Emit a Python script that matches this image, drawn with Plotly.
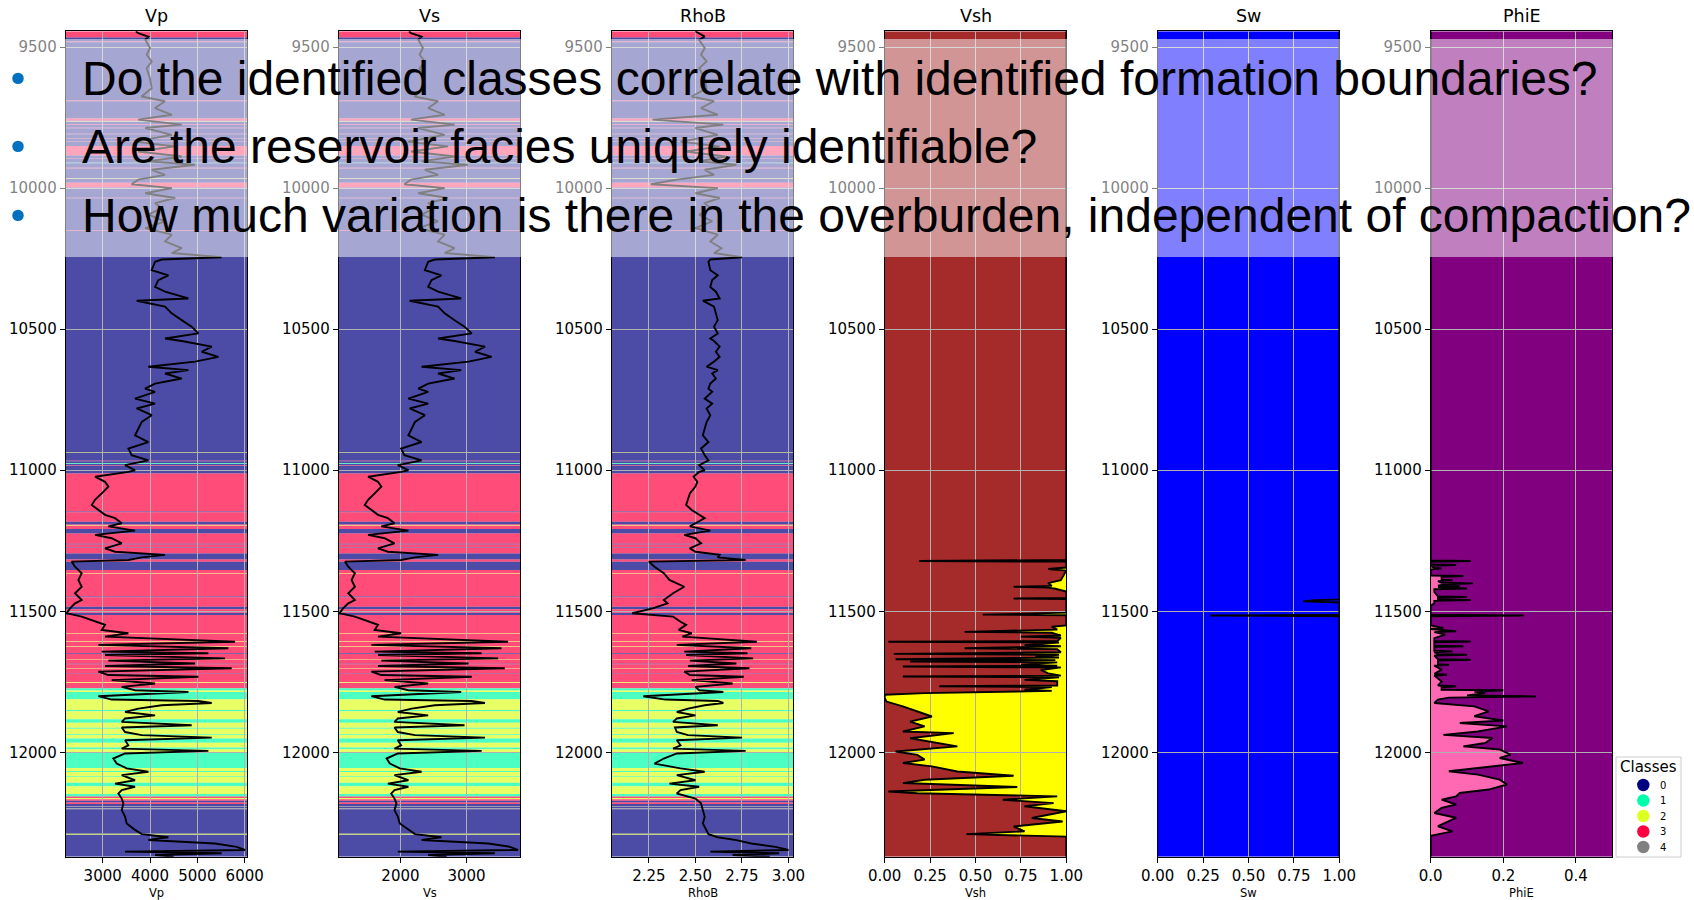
import plotly.graph_objects as go

W, H = 1694, 900

# ---------------- data ----------------
track_names = ["Vp", "Vs", "RhoB", "Vsh", "Sw", "PhiE"]
depth_ticks = [9500, 10000, 10500, 11000, 11500, 12000]
depth_top, depth_bottom = 9444, 12370

x_ranges = [[2218, 6055], [1065, 3815], [2.05, 3.026], [0, 1], [0, 1], [0, 0.5]]
x_tickvals = [[3000, 4000, 5000, 6000], [2000, 3000], [2.25, 2.5, 2.75, 3.0],
              [0, 0.25, 0.5, 0.75, 1.0], [0, 0.25, 0.5, 0.75, 1.0], [0, 0.2, 0.4]]
x_ticktext = [["3000", "4000", "5000", "6000"], ["2000", "3000"], ["2.25", "2.50", "2.75", "3.00"],
              ["0.00", "0.25", "0.50", "0.75", "1.00"], ["0.00", "0.25", "0.50", "0.75", "1.00"],
              ["0.0", "0.2", "0.4"]]

legend_title = "Classes"
class_labels = ["0", "1", "2", "3", "4"]
class_colors = ["#000080", "#00FFAA", "#DDFF22", "#FF0040", "#808080"]

class_top = [9444, 9466, 9480, 9483, 9689, 9692, 9753, 9761, 9763, 9765,
             9773, 9775, 9786, 9788, 9807, 9809, 9822, 9824, 9833, 9835,
             9851, 9884, 9893, 9895, 9910, 9912, 9928, 9930, 9966, 9968,
             9981, 9998, 10034, 10036, 10150, 10152, 10936, 10938, 10966, 10968,
             10975, 10978, 10983, 10985, 11012, 11146, 11149, 11183, 11192, 11196,
             11198, 11208, 11224, 11261, 11263, 11273, 11275, 11295, 11316, 11324,
             11354, 11365, 11367, 11448, 11450, 11484, 11493, 11500, 11503, 11506,
             11513, 11578, 11580, 11607, 11609, 11625, 11627, 11649, 11651, 11669,
             11671, 11686, 11688, 11701, 11703, 11719, 11721, 11752, 11754, 11773,
             11781, 11786, 11812, 11850, 11854, 11883, 11895, 11913, 11916, 11936,
             11939, 11951, 11966, 11983, 11989, 11999, 12056, 12066, 12070, 12084,
             12087, 12108, 12120, 12148, 12157, 12162, 12166, 12172, 12178, 12183,
             12190, 12193, 12198, 12202, 12289, 12292]
class_id = [3, 0, 3, 0, 3, 0, 3, 0, 2, 0,
            3, 0, 3, 0, 3, 0, 3, 0, 3, 0,
            3, 0, 3, 0, 1, 0, 3, 0, 2, 0,
            3, 0, 3, 0, 3, 0, 2, 0, 3, 0,
            1, 0, 3, 0, 3, 0, 3, 0, 3, 2,
            3, 0, 3, 0, 3, 0, 3, 0, 3, 0,
            3, 2, 3, 0, 3, 0, 3, 0, 3, 0,
            3, 2, 3, 2, 3, 2, 3, 0, 3, 2,
            3, 0, 3, 2, 3, 0, 3, 2, 3, 1,
            2, 1, 2, 1, 2, 1, 2, 1, 2, 1,
            2, 1, 2, 1, 2, 1, 2, 1, 2, 1,
            2, 1, 2, 1, 3, 2, 3, 0, 3, 0,
            4, 0, 4, 0, 2, 0]

depth = [9444, 9451, 9463, 9474, 9503, 9527, 9551, 9575, 9611, 9646,
         9675, 9692, 9716, 9740, 9757, 9775, 9787, 9811, 9835, 9852,
         9870, 9888, 9905, 9917, 9935, 9953, 9970, 9986, 10000, 10018,
         10035, 10053, 10071, 10094, 10118, 10142, 10165, 10189, 10213, 10230,
         10245, 10253, 10261, 10291, 10309, 10326, 10350, 10367, 10391, 10399,
         10420, 10444, 10468, 10491, 10515, 10533, 10542, 10562, 10580, 10598,
         10615, 10633, 10645, 10657, 10675, 10693, 10711, 10722, 10746, 10764,
         10781, 10805, 10829, 10852, 10876, 10900, 10923, 10947, 10965, 10982,
         11000, 11006, 11023, 11041, 11058, 11082, 11105, 11123, 11141, 11158,
         11170, 11188, 11199, 11214, 11229, 11241, 11259, 11277, 11289, 11300,
         11309, 11318, 11324, 11342, 11365, 11389, 11413, 11436, 11460, 11472,
         11490, 11507, 11519, 11537, 11548, 11566, 11578, 11590, 11608, 11619,
         11631, 11643, 11649, 11655, 11667, 11675, 11685, 11694, 11702, 11714,
         11726, 11732, 11744, 11756, 11768, 11780, 11786, 11801, 11813, 11818,
         11825, 11833, 11845, 11857, 11869, 11880, 11892, 11904, 11912, 11928,
         11939, 11948, 11957, 11975, 11987, 11995, 12004, 12022, 12040, 12057,
         12069, 12081, 12099, 12111, 12122, 12134, 12146, 12164, 12181, 12205,
         12228, 12252, 12275, 12290, 12301, 12311, 12323, 12335, 12346, 12352,
         12358, 12364, 12370]

vp = [3700, 3750, 3965, 3900, 4000, 3930, 4035, 3930, 4000, 4035,
      3820, 4315, 4106, 4460, 3750, 4670, 3900, 4460, 3680, 4530,
      3750, 4670, 3965, 4950, 4035, 4317, 3750, 3610, 4460, 3900,
      4530, 4106, 4246, 3965, 4317, 3900, 4460, 4317, 4670, 4460,
      5510, 4246, 4106, 4035, 4387, 4176, 4106, 4317, 4810, 3718,
      4317, 4458, 4669, 4880, 5021, 4317, 4669, 5303, 5092, 5444,
      4951, 3965, 4810, 4317, 4669, 4106, 3894, 4106, 3683, 4106,
      3718, 4035, 3824, 3754, 3683, 3965, 3542, 3612, 3965, 3472,
      3683, 3542, 2838, 3049, 3120, 2979, 2838, 2768, 2908, 3049,
      3261, 3402, 3120, 3683, 2838, 3190, 3402, 3049, 3261, 4317,
      3824, 3542, 2345, 2415, 2556, 2486, 2556, 2415, 2556, 2415,
      2310, 2239, 2556, 2838, 3049, 2979, 3542, 3049, 5796, 2908,
      5655, 2979, 5232, 3049, 5585, 3120, 4951, 3049, 5725, 2908,
      3120, 5021, 3190, 4106, 3402, 3683, 4810, 2908, 3190, 5021,
      5303, 4246, 3754, 3472, 4106, 3472, 3402, 4880, 3402, 3472,
      3824, 5303, 3472, 3542, 3402, 5232, 3472, 3225, 3296, 3507,
      3965, 3402, 3683, 3261, 3683, 3402, 3331, 3402, 3437, 3402,
      3472, 3507, 3683, 3824, 4387, 3965, 5373, 5831, 6007, 3472,
      5514, 4106, 4500]

vs = [2130, 2160, 2320, 2270, 2340, 2290, 2370, 2290, 2340, 2370,
      2210, 2570, 2420, 2670, 2160, 2820, 2270, 2670, 2110, 2720,
      2160, 2820, 2320, 3020, 2370, 2570, 2160, 2060, 2670, 2270,
      2720, 2420, 2520, 2320, 2570, 2270, 2670, 2570, 2820, 2670,
      3430, 2520, 2420, 2370, 2620, 2470, 2420, 2570, 2920, 2140,
      2570, 2670, 2820, 2970, 3080, 2570, 2820, 3280, 3130, 3380,
      3030, 2320, 2920, 2570, 2820, 2420, 2270, 2420, 2120, 2420,
      2140, 2370, 2220, 2170, 2120, 2320, 2010, 2060, 2320, 1960,
      2120, 2010, 1510, 1660, 1710, 1610, 1510, 1460, 1560, 1660,
      1810, 1910, 1710, 2120, 1510, 1760, 1910, 1660, 1810, 2570,
      2220, 2010, 1160, 1210, 1310, 1260, 1310, 1210, 1310, 1210,
      1130, 1080, 1310, 1510, 1660, 1610, 2010, 1660, 3630, 1560,
      3530, 1610, 3230, 1660, 3480, 1710, 3030, 1660, 3580, 1560,
      1710, 3080, 1760, 2420, 1910, 2120, 2920, 1560, 1760, 3080,
      3280, 2520, 2170, 1960, 2420, 1960, 1910, 2970, 1910, 1960,
      2220, 3280, 1960, 2010, 1910, 3230, 1960, 1790, 1840, 1990,
      2320, 1910, 2120, 1810, 2120, 1910, 1860, 1910, 1940, 1910,
      1960, 1990, 2120, 2220, 2620, 2320, 3330, 3660, 3780, 1960,
      3430, 2420, 2700]

rhob = [2.50, 2.52, 2.55, 2.52, 2.55, 2.53, 2.56, 2.52, 2.55, 2.56,
        2.48, 2.60, 2.53, 2.62, 2.27, 2.65, 2.50, 2.62, 2.42, 2.63,
        2.45, 2.66, 2.52, 2.72, 2.55, 2.60, 2.40, 2.26, 2.62, 2.50,
        2.63, 2.55, 2.58, 2.52, 2.59, 2.50, 2.62, 2.58, 2.64, 2.60,
        2.75, 2.58, 2.57, 2.58, 2.62, 2.59, 2.58, 2.61, 2.63, 2.54,
        2.60, 2.61, 2.62, 2.60, 2.62, 2.58, 2.60, 2.63, 2.61, 2.63,
        2.60, 2.56, 2.62, 2.59, 2.61, 2.58, 2.57, 2.59, 2.55, 2.59,
        2.56, 2.58, 2.56, 2.55, 2.54, 2.57, 2.53, 2.55, 2.57, 2.52,
        2.55, 2.52, 2.49, 2.51, 2.50, 2.47, 2.46, 2.45, 2.48, 2.52,
        2.55, 2.50, 2.47, 2.58, 2.44, 2.50, 2.53, 2.47, 2.50, 2.63,
        2.62, 2.77, 2.25, 2.28, 2.33, 2.36, 2.44, 2.38, 2.33, 2.35,
        2.27, 2.16, 2.38, 2.42, 2.45, 2.41, 2.48, 2.43, 2.83, 2.40,
        2.80, 2.44, 2.78, 2.45, 2.81, 2.47, 2.72, 2.46, 2.79, 2.44,
        2.47, 2.76, 2.48, 2.70, 2.50, 2.52, 2.65, 2.22, 2.34, 2.62,
        2.65, 2.55, 2.46, 2.40, 2.50, 2.40, 2.38, 2.62, 2.39, 2.40,
        2.46, 2.75, 2.40, 2.42, 2.38, 2.77, 2.40, 2.33, 2.28, 2.42,
        2.55, 2.40, 2.50, 2.36, 2.52, 2.42, 2.40, 2.50, 2.53, 2.54,
        2.55, 2.54, 2.56, 2.57, 2.62, 2.72, 2.80, 2.93, 3.00, 2.58,
        2.95, 2.70, 2.90]

vsh_depth = [9444, 11318, 11322, 11324, 11345, 11350, 11356, 11390, 11400, 11410,
             11413, 11416, 11420, 11430, 11453, 11455, 11457, 11505, 11512, 11514,
             11550, 11555, 11565, 11573, 11576, 11586, 11590, 11594, 11606, 11608,
             11611, 11620, 11624, 11631, 11634, 11645, 11651, 11654, 11660, 11664,
             11670, 11673, 11678, 11681, 11690, 11693, 11696, 11699, 11708, 11720,
             11728, 11731, 11734, 11743, 11748, 11763, 11766, 11769, 11778, 11782,
             11790, 11796, 11808, 11820, 11837, 11855, 11873, 11891, 11908, 11926,
             11932, 11950, 11967, 11979, 11997, 12009, 12026, 12038, 12050, 12068,
             12083, 12097, 12109, 12123, 12139, 12145, 12156, 12168, 12180, 12191,
             12209, 12233, 12245, 12263, 12280, 12290, 12299, 12370]
vsh = [1.0, 1.0, 0.19, 1.0, 1.0, 0.90, 1.0, 0.97, 0.90, 0.92,
       0.71, 0.90, 0.94, 1.0, 1.0, 0.71, 1.0, 1.0, 0.54, 1.0,
       1.0, 0.92, 0.95, 0.44, 0.92, 0.97, 0.75, 0.97, 0.95, 0.02,
       0.96, 0.77, 0.97, 0.44, 0.95, 0.97, 0.05, 0.96, 0.83, 0.96,
       0.06, 0.94, 0.14, 0.95, 0.75, 0.95, 0.10, 0.97, 0.86, 0.90,
       0.97, 0.10, 0.96, 0.77, 0.95, 0.95, 0.30, 0.92, 0.77, 0.92,
       0.22, 0.0, 0.0, 0.01, 0.10, 0.18, 0.26, 0.14, 0.22, 0.10,
       0.38, 0.14, 0.30, 0.40, 0.06, 0.18, 0.22, 0.10, 0.26, 0.40,
       0.71, 0.22, 0.10, 0.73, 0.02, 0.18, 0.95, 0.65, 0.93, 0.77,
       1.0, 0.81, 0.98, 0.71, 0.77, 0.45, 1.0, 1.0]

sw_depth = [9444, 11458, 11461, 11465, 11469, 11512, 11515, 11518, 12370]
sw = [1.0, 1.0, 0.86, 0.80, 1.0, 1.0, 0.29, 1.0, 1.0]

phie_depth = [9444, 11320, 11322, 11325, 11334, 11336, 11339, 11346, 11348, 11352,
              11373, 11375, 11378, 11388, 11390, 11393, 11399, 11401, 11404, 11409,
              11411, 11414, 11419, 11422, 11431, 11447, 11449, 11452, 11458, 11460,
              11463, 11472, 11480, 11512, 11515, 11518, 11550, 11559, 11563, 11571,
              11574, 11583, 11595, 11605, 11607, 11610, 11622, 11624, 11627, 11640,
              11642, 11645, 11652, 11654, 11657, 11670, 11672, 11675, 11688, 11690,
              11693, 11707, 11722, 11725, 11728, 11749, 11763, 11766, 11770, 11778,
              11780, 11785, 11790, 11798, 11802, 11806, 11813, 11825, 11837, 11855,
              11872, 11887, 11896, 11908, 11926, 11938, 11949, 11967, 11979, 11990,
              12008, 12020, 12038, 12049, 12067, 12079, 12097, 12114, 12132, 12144,
              12156, 12168, 12185, 12197, 12215, 12232, 12244, 12262, 12280, 12292,
              12296, 12370]
phie = [0, 0, 0.11, 0.0, 0.0, 0.07, 0.0, 0.01, 0.03, 0.0,
        0.0, 0.09, 0.03, 0.03, 0.06, 0.02, 0.03, 0.117, 0.04, 0.02,
        0.08, 0.02, 0.10, 0.01, 0.01, 0.02, 0.10, 0.02, 0.02, 0.11,
        0.01, 0.01, 0, 0, 0.256, 0, 0, 0.035, 0.0, 0.07,
        0.01, 0.04, 0.01, 0.01, 0.11, 0.01, 0.01, 0.09, 0.01, 0.01,
        0.06, 0.01, 0.02, 0.10, 0.01, 0.02, 0.11, 0.02, 0.02, 0.05,
        0.01, 0.03, 0.01, 0.045, 0.01, 0.03, 0.02, 0.07, 0.03, 0.03,
        0.20, 0.12, 0.15, 0.10, 0.29, 0.05, 0.02, 0.01, 0.12, 0.16,
        0.12, 0.20, 0.08, 0.21, 0.13, 0.035, 0.17, 0.15, 0.09, 0.19,
        0.22, 0.19, 0.254, 0.18, 0.05, 0.13, 0.19, 0.21, 0.16, 0.08,
        0.07, 0.03, 0.07, 0.03, 0.01, 0.07, 0.05, 0.02, 0.06, 0.01,
        0, 0]

bullet_lines = [
    "Do the identified classes correlate with identified formation boundaries?",
    "Are the reservoir facies uniquely identifiable?",
    "How much variation is there in the overburden, independent of compaction?",
]

assert len(depth) == len(vp) == len(vs) == len(rhob)
assert len(vsh_depth) == len(vsh), (len(vsh_depth), len(vsh))
assert len(phie_depth) == len(phie), (len(phie_depth), len(phie))
assert len(sw_depth) == len(sw)
assert len(class_top) == len(class_id)

# ---------------- layout geometry (pixels) ----------------
panel_left = [65.7 + 273.0 * i for i in range(6)]
panel_w = 181.6
y_top_px, y_bot_px = 31.3, 856.7
ydom = [1 - y_bot_px / H, 1 - y_top_px / H]


def px(x):
    return x / W


def py(y):
    return 1 - y / H


fig = go.Figure()
layout = {}
shapes = []
annotations = []


def sfx(i):
    return "" if i == 0 else str(i + 1)


tick_font = dict(family="DejaVu Sans", size=15, color="black")
axis_common = dict(showgrid=True, gridcolor="#b0b0b0", gridwidth=1, zeroline=False,
                   showline=True, linecolor="black", linewidth=1, mirror=True,
                   ticks="outside", ticklen=5, tickwidth=1, tickcolor="black",
                   tickfont=tick_font, fixedrange=True, automargin=False)
for i in range(6):
    s = sfx(i)
    layout["xaxis" + s] = dict(
        domain=[px(panel_left[i]), px(panel_left[i] + panel_w)], range=x_ranges[i],
        anchor="y" + s, tickmode="array", tickvals=x_tickvals[i], ticktext=x_ticktext[i],
        **axis_common)
    layout["yaxis" + s] = dict(
        domain=ydom, range=[depth_bottom, depth_top], anchor="x" + s,
        tickmode="array", tickvals=depth_ticks, ticktext=[str(t) for t in depth_ticks],
        **axis_common)
    cx = px(panel_left[i] + panel_w / 2)
    annotations.append(dict(text=track_names[i], x=cx, y=py(16), xref="paper", yref="paper",
                            xanchor="center", yanchor="middle", showarrow=False,
                            font=dict(family="DejaVu Sans", size=17.5, color="black")))
    annotations.append(dict(text=track_names[i], x=cx, y=py(893), xref="paper", yref="paper",
                            xanchor="center", yanchor="middle", showarrow=False,
                            font=dict(family="DejaVu Sans", size=11.5, color="black")))

# class bands on the three elastic tracks
for i in range(3):
    s = sfx(i)
    for j, top in enumerate(class_top):
        base = class_top[j + 1] if j + 1 < len(class_top) else depth_bottom
        shapes.append(dict(type="rect", xref="x" + s + " domain", yref="y" + s,
                           x0=0, x1=1, y0=top, y1=base, fillcolor=class_colors[class_id[j]],
                           opacity=0.7, line=dict(width=0), layer="below"))

# backgrounds for petrophysical tracks
bg_cols = {3: "#A52A2A", 4: "#0000FF", 5: "#800080"}
for i, col in bg_cols.items():
    s = sfx(i)
    shapes.append(dict(type="rect", xref="x" + s + " domain", yref="y" + s, x0=0, x1=1,
                       y0=depth_top, y1=depth_bottom, fillcolor=col, line=dict(width=0), layer="below"))

# yellow sand fill on Vsh (curve to 1)
p = "M1,%g" % vsh_depth[0] + "".join("L%g,%g" % (v, d) for v, d in zip(vsh, vsh_depth)) + "L1,%gZ" % vsh_depth[-1]
shapes.append(dict(type="path", path=p, xref="x4", yref="y4", fillcolor="#FFFF00",
                   line=dict(width=0), layer="below"))
# pink porosity fill on PhiE (0 to curve)
p = "M0,%g" % phie_depth[0] + "".join("L%g,%g" % (v, d) for v, d in zip(phie, phie_depth)) + "L0,%gZ" % phie_depth[-1]
shapes.append(dict(type="path", path=p, xref="x6", yref="y6", fillcolor="#FF69B4",
                   line=dict(width=0), layer="below"))

# curves
curves = [(vp, depth), (vs, depth), (rhob, depth), (vsh, vsh_depth), (sw, sw_depth), (phie, phie_depth)]
for i, (xv, yv) in enumerate(curves):
    s = sfx(i)
    fig.add_trace(go.Scatter(x=xv, y=yv, mode="lines", line=dict(color="black", width=1.9),
                             xaxis="x" + s, yaxis="y" + s, showlegend=False, hoverinfo="skip"))

# semi-transparent slide overlay
shapes.append(dict(type="rect", xref="paper", yref="paper", x0=0, x1=1,
                   y0=py(257), y1=py(39), fillcolor="rgba(255,255,255,0.5)",
                   line=dict(width=0), layer="above"))

# bullets + text
centers_px = [78.4, 146.4, 215.4]
for line, cy in zip(bullet_lines, centers_px):
    shapes.append(dict(type="circle", xref="paper", yref="paper",
                       x0=px(12.3), x1=px(23.7), y0=py(cy + 5.7), y1=py(cy - 5.7),
                       fillcolor="#0070C0", line=dict(width=0), layer="above"))
    annotations.append(dict(text=line,
                            x=px(80), y=py(cy), xref="paper", yref="paper", align="left",
                            xanchor="left", yanchor="middle", showarrow=False,
                            font=dict(family="Liberation Sans, Arial", size=48, color="black")))

# class legend (box, title, markers, labels)
lg_x0, lg_x1, lg_y0, lg_y1 = 1616, 1681, 757, 857
shapes.append(dict(type="rect", xref="paper", yref="paper", x0=px(lg_x0), x1=px(lg_x1),
                   y0=py(lg_y1), y1=py(lg_y0), fillcolor="white",
                   line=dict(color="#cccccc", width=1), layer="above"))
annotations.append(dict(text=legend_title, x=px((lg_x0 + lg_x1) / 2), y=py(767), xref="paper", yref="paper",
                        xanchor="center", yanchor="middle", showarrow=False,
                        font=dict(family="DejaVu Sans", size=15, color="black")))
for k, lab in enumerate(class_labels):
    cy = 785 + 15.5 * k
    shapes.append(dict(type="circle", xref="paper", yref="paper",
                       x0=px(1643.3 - 6.2), x1=px(1643.3 + 6.2), y0=py(cy + 6.2), y1=py(cy - 6.2),
                       fillcolor=class_colors[k], line=dict(width=0), layer="above"))
    annotations.append(dict(text=lab, x=px(1663.3), y=py(cy), xref="paper", yref="paper",
                            xanchor="center", yanchor="middle", showarrow=False,
                            font=dict(family="DejaVu Sans", size=10, color="black")))

fig.update_layout(
    width=W, height=H, autosize=False, margin=dict(l=0, r=0, t=0, b=0, pad=0),
    paper_bgcolor="white", plot_bgcolor="white", hovermode=False,
    font=dict(family="DejaVu Sans", color="black"),
    shapes=shapes, annotations=annotations, showlegend=False,
    **layout)

fig.write_html("out.html", include_plotlyjs=True, config={"displayModeBar": False})
